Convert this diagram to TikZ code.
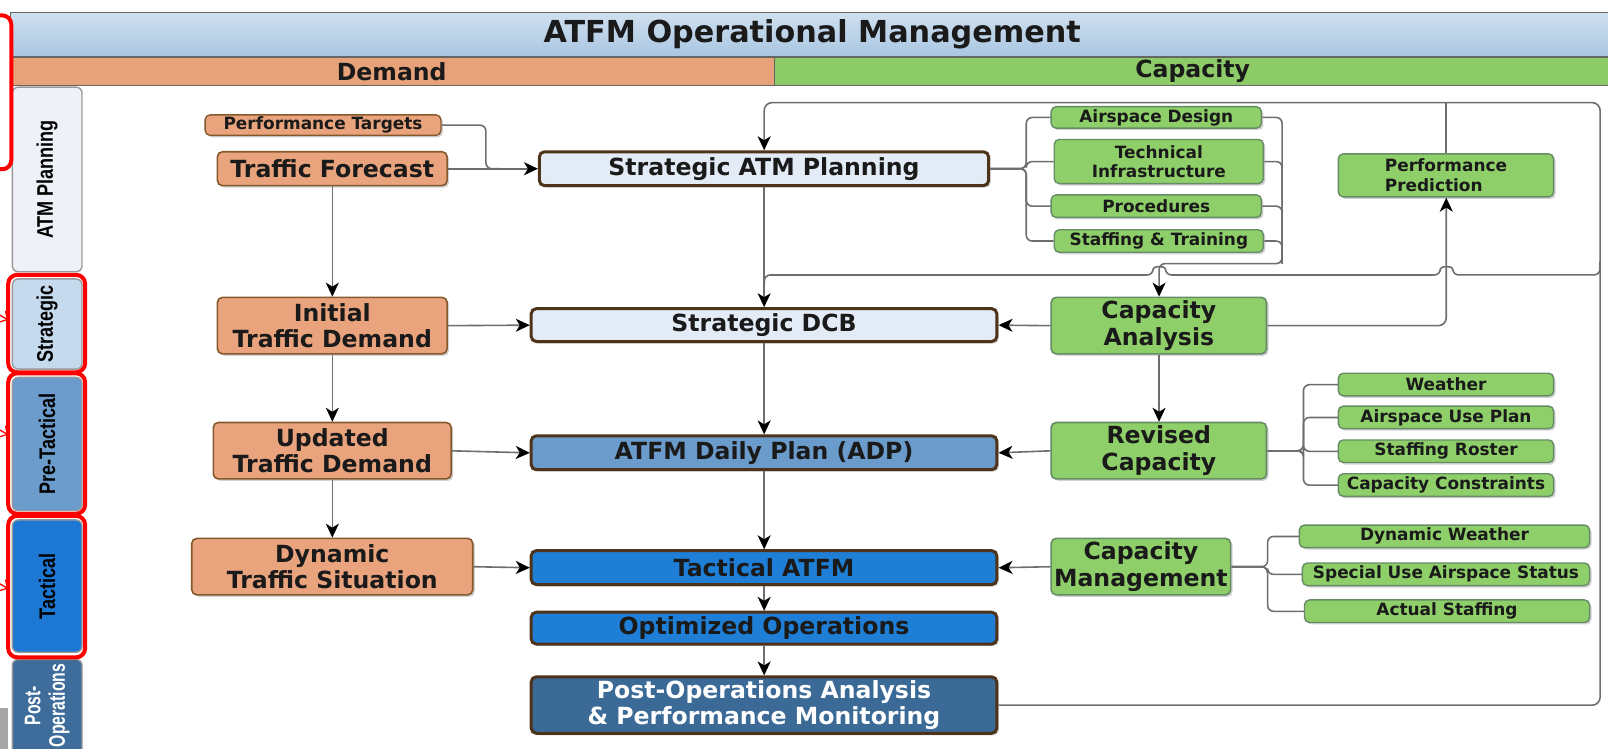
\documentclass[tikz,border=0pt]{standalone}
\usepackage{fontspec}
\setmainfont{DejaVu Sans}
\newfontfamily\tabfont{Liberation Sans}
\usepackage{tikz}
\usetikzlibrary{arrows.meta,shapes,positioning,shadows,calc}
\definecolor{demOr}{HTML}{E9A47E}
\definecolor{demBar}{HTML}{E8A27A}
\definecolor{capGr}{HTML}{8ECF6A}
\definecolor{capBar}{HTML}{8DCB68}
\definecolor{titBl}{HTML}{A9C6E2}
\definecolor{pale}{HTML}{E3ECF6}
\definecolor{midBl}{HTML}{6A9BCB}
\definecolor{brBl}{HTML}{1F7FD6}
\definecolor{dkBl}{HTML}{3C6A97}
\definecolor{lnGr}{HTML}{6E6E6E}
\definecolor{txt}{HTML}{1A1A1A}
\definecolor{tabW}{HTML}{EEF2F8}
\definecolor{tabS}{HTML}{C6DAED}
\definecolor{tabP}{HTML}{6C9CCB}
\definecolor{tabT}{HTML}{1C78D2}
\definecolor{tabO}{HTML}{3E6D9B}

\begin{document}
\begin{tikzpicture}[x=1pt,y=-1pt,scale=1.0255,every node/.append style={transform shape},
  bigfont/.style={font=\bfseries\fontsize{23}{26}\selectfont},
  smallfont/.style={font=\bfseries\fontsize{16.5}{19}\selectfont},
  anybox/.style={rounded corners=5pt, align=center, inner sep=0pt, text=txt,
    drop shadow={shadow xshift=2pt,shadow yshift=-2pt,opacity=.35}},
  dbox/.style={anybox, bigfont, fill=demOr, draw=brown!70!black, line width=1.6pt},
  dsbox/.style={anybox, smallfont, fill=demOr, draw=brown!70!black, line width=1.4pt},
  gbox/.style={anybox, bigfont, fill=capGr, draw=green!25!black!60, line width=1.6pt},
  gsbox/.style={anybox, smallfont, fill=capGr, draw=green!25!black!60, line width=1.4pt},
  cbox/.style={anybox, bigfont, draw=brown!40!black, line width=3pt, minimum width=454},
  tabbox/.style={draw=gray!80, line width=1.4pt, rounded corners=6pt, rotate=90,
    minimum height=68, inner sep=0pt, align=center,
    font=\tabfont\bfseries\fontsize{22}{24}\selectfont},
  redbox/.style={draw=red, line width=4pt, rounded corners=9pt},
  redmark/.style={draw=red, line width=1.3pt, -{Straight Barb[length=6pt,width=13pt]}},
  ln/.style={draw=lnGr, line width=1.6pt},
  arr/.style={ln, -{Stealth[length=14pt,width=13pt,inset=4pt,color=black]}}
]
\useasboundingbox (0,0) rectangle (1568,730);
\clip (0,0) rectangle (1568,730);

\draw[top color=titBl!55!white, bottom color=titBl, draw=gray!80!black, line width=1pt] (10,12) rectangle (1630,55);
\draw[fill=demBar, draw=gray!80!black, line width=1pt] (10,56) rectangle (755,83);
\draw[fill=capBar, draw=gray!80!black, line width=1pt] (755,56) rectangle (1630,83);
\node[font=\bfseries\fontsize{29.5}{32}\selectfont, text=txt] (ttl) at (792,33) {ATFM Operational Management};
\node[bigfont, text=txt] (dem) at (382,69.5) {Demand};
\node[bigfont, text=txt] (cap) at (1163,69.5) {Capacity};

\node[tabbox, fill=tabW, minimum width=180] (tPlan) at (46,175) {\scalebox{.8}[1]{ATM Planning}};
\node[tabbox, fill=tabS, minimum width=88] (tStrat) at (46,316) {\scalebox{.8}[1]{Strategic}};
\node[tabbox, fill=tabP, minimum width=130] (tPre) at (46,433) {\scalebox{.8}[1]{Pre-Tactical}};
\node[tabbox, fill=tabT, minimum width=129] (tTac) at (46,571.5) {\scalebox{.8}[1]{Tactical}};
\node[tabbox, fill=tabO, minimum width=147] (tPost) at (46,716.5) {};
\node[tabbox, draw=none, text=white] (tPostL) at (46,688) {\scalebox{.7}[1]{Post-}\\\scalebox{.7}[1]{Operations}};
\fill[gray!70] (0,690) rectangle (8,730);

\draw[redbox] (-40,15) rectangle (11,165);
\draw[redbox] (8,268) rectangle (83,363);
\draw[redbox] (8,364) rectangle (83,501);
\draw[redbox] (8,503) rectangle (83,641);
\draw[redmark] (-30,290) -- (8,312);
\draw[redmark] (-30,402) -- (8,424);
\draw[redmark] (-30,552) -- (8,574);

\node[dsbox, minimum width=230, minimum height=20] (perfT) at (315,122) {Performance Targets};
\node[dbox, minimum width=224, minimum height=33] (trafF) at (324,164.5) {Traffic Forecast};
\node[dbox, minimum width=224, minimum height=55] (initD) at (324,317.5) {Initial\\Traffic Demand};
\node[dbox, minimum width=232, minimum height=55] (updD) at (324,439.5) {Updated\\Traffic Demand};
\node[dbox, minimum width=274, minimum height=55] (dynS) at (324,552.5) {Dynamic\\Traffic Situation};

\node[cbox, fill=pale, minimum width=438, minimum height=33] (sATM) at (745,164.5) {Strategic ATM Planning};
\node[cbox, fill=pale, minimum height=32] (sDCB) at (745,317) {Strategic DCB};
\node[cbox, fill=midBl, minimum height=33] (adp) at (745,441.5) {ATFM Daily Plan (ADP)};
\node[cbox, fill=brBl, minimum height=33] (tATFM) at (745,553.5) {Tactical ATFM};
\node[cbox, fill=brBl, minimum height=31] (optO) at (745,612.5) {Optimized Operations};
\node[cbox, fill=dkBl, text=white, minimum height=55] (postA) at (745,687.5) {Post-Operations Analysis\\\& Performance Monitoring};

\node[gbox, minimum width=210, minimum height=55] (capA) at (1130,317.5) {Capacity\\Analysis};
\node[gbox, minimum width=210, minimum height=55] (revC) at (1130,439.5) {Revised\\Capacity};
\node[gbox, minimum width=175, minimum height=55] (capM) at (1112.5,552.5) {Capacity\\Management};
\node[gsbox, align=left, minimum width=210, minimum height=42] (perfP) at (1410,171) {Performance\\Prediction};

\node[gsbox, minimum width=205, minimum height=21] (airD) at (1127.5,114.5) {Airspace Design};
\node[gsbox, minimum width=204, minimum height=43] (techI) at (1130,157.5) {Technical\\Infrastructure};
\node[gsbox, minimum width=205, minimum height=22] (procs) at (1127.5,201) {Procedures};
\node[gsbox, minimum width=204, minimum height=22] (staffT) at (1130,235) {Staffing \& Training};

\node[gsbox, minimum width=210, minimum height=22] (wthr) at (1410,375) {Weather};
\node[gsbox, minimum width=210, minimum height=22] (aupl) at (1410,407) {Airspace Use Plan};
\node[gsbox, minimum width=210, minimum height=22] (stfR) at (1410,440) {Staffing Roster};
\node[gsbox, minimum width=210, minimum height=22] (capC) at (1410,473) {Capacity Constraints};

\node[gsbox, minimum width=283, minimum height=22] (dynW) at (1408.5,523) {Dynamic Weather};
\node[gsbox, minimum width=280, minimum height=22] (suas) at (1410,560) {Special Use Airspace Status};
\node[gsbox, minimum width=278, minimum height=22] (actS) at (1411,596) {Actual Staffing};

\coordinate (ptJ) at ($(trafF.east)!0.42!(sATM.west)$);
\coordinate (loopTR) at (1560,100);
\coordinate (brR) at (1560,268);
\coordinate (brL) at (sATM.south |- brR);
\coordinate (hopA) at (perfP.south |- brR);
\coordinate (hopB) at (capA.north |- brR);
\coordinate (brk) at (1250,257);

\draw[ln, rounded corners=6] (perfT.east) -| (ptJ) -- ++(14,0);
\draw[arr] (trafF.east) -- (sATM.west);
\draw[arr] (trafF.south) -- (initD.north);
\draw[arr] (initD.south) -- (updD.north);
\draw[arr] (updD.south) -- (dynS.north);
\draw[arr] (initD.east) -- (sDCB.west);
\draw[arr] (updD.east) -- (adp.west);
\draw[arr] (dynS.east) -- (tATFM.west);

\draw[arr] (sATM.south) -- (sDCB.north);
\draw[arr] (sDCB.south) -- (adp.north);
\draw[arr] (adp.south) -- (tATFM.north);
\draw[arr] (tATFM.south) -- (optO.north);
\draw[arr] (optO.south) -- (postA.north);

\draw[arr] (capA.west) -- (sDCB.east);
\draw[arr] (revC.west) -- (adp.east);
\draw[arr] (capM.west) -- (tATFM.east);
\draw[arr] (capA.south) -- (revC.north);
\draw[arr, rounded corners=8] (capA.east) -| (perfP.south);

\foreach \n in {airD,techI,procs,staffT}
  \draw[ln, rounded corners=6] (sATM.east) -- ++(35,0) |- (\n.west);
\foreach \n in {techI,procs,staffT}
  \draw[ln, rounded corners=6] (\n.east) -| (brk);
\draw[arr, rounded corners=6] (airD.east) -| (brk) -| (capA.north);

\foreach \n in {wthr,aupl,stfR,capC}
  \draw[ln, rounded corners=6] (revC.east) -- ++(35,0) |- (\n.west);
\foreach \n in {dynW,suas,actS}
  \draw[ln, rounded corners=6] (capM.east) -- ++(35,0) |- (\n.west);

\draw[arr, rounded corners=8] (postA.east) -| (loopTR) -| (sATM.north);
\draw[ln] (perfP.north) -- (perfP.north |- loopTR);
\draw[ln, rounded corners=6] (1560,255) -- (brR) -- ([xshift=6pt]hopA)
  .. controls ([xshift=6pt,yshift=9pt]hopA) and ([xshift=-6pt,yshift=9pt]hopA) .. ([xshift=-6pt]hopA)
  -- ([xshift=6pt]hopB)
  .. controls ([xshift=6pt,yshift=9pt]hopB) and ([xshift=-6pt,yshift=9pt]hopB) .. ([xshift=-6pt]hopB)
  -- (brL) -- ++(0,10);
\end{tikzpicture}
\end{document}
